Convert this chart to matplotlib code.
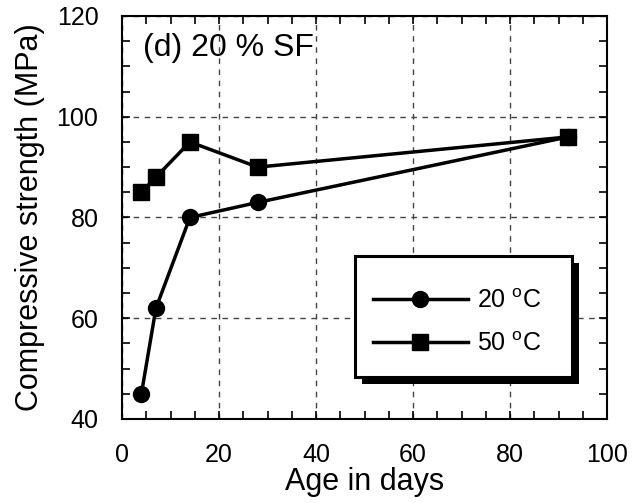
import matplotlib
matplotlib.use('Agg')
from matplotlib import pyplot as plt
from matplotlib.ticker import MultipleLocator
from matplotlib.patches import Rectangle

plt.rcParams['font.family'] = ['Liberation Sans', 'DejaVu Sans']

# Data
age_days = [4, 7, 14, 28, 92]
strength_20c = [45, 62, 80, 83, 96]
strength_50c = [85, 88, 95, 90, 96]

fig = plt.figure(figsize=(6.38, 5.03), dpi=100)
ax = fig.add_axes([122 / 638, 1 - 419 / 503, (607 - 122) / 638, (419 - 16) / 503])

ax.plot(age_days, strength_20c, color='black', lw=2.5, marker='o', ms=11.5, label='20 $^{\\mathregular{o}}$C')
ax.plot(age_days, strength_50c, color='black', lw=2.5, marker='s', ms=12, label='50 $^{\\mathregular{o}}$C')

ax.set_xlim(0, 100)
ax.set_ylim(40, 120)
ax.xaxis.set_major_locator(MultipleLocator(20))
ax.xaxis.set_minor_locator(MultipleLocator(5))
ax.yaxis.set_major_locator(MultipleLocator(20))
ax.yaxis.set_minor_locator(MultipleLocator(5))
ax.tick_params(which='both', direction='in', top=True, right=True, labelsize=18,
               width=1.2, length=6, pad=17)
for s in ax.spines.values():
    s.set_linewidth(1.5)

ax.grid(True, which='major', color='#444444', ls=(0, (4, 4)), lw=1.0)

ax.set_xlabel('Age in days', fontsize=22, labelpad=0)
ax.set_ylabel('Compressive strength (MPa)', fontsize=22, labelpad=8)

ax.text(0.043, 0.957, '(d) 20 % SF', transform=ax.transAxes, fontsize=23, va='top', ha='left')

# legend box with drop shadow
bx0, bx1 = 0.480, 0.928
by0, by1 = 0.104, 0.404
ax.add_patch(Rectangle((bx0 + 7 / 485, by0 - 7 / 403), bx1 - bx0, by1 - by0, transform=ax.transAxes,
                       facecolor='black', edgecolor='black', lw=0, zorder=4))
ax.add_patch(Rectangle((bx0, by0), bx1 - bx0, by1 - by0, transform=ax.transAxes,
                       facecolor='white', edgecolor='black', lw=2.2, zorder=4.5))

leg = ax.legend(loc='center left', bbox_to_anchor=(0.5175, 0.2395), fontsize=18, frameon=False,
                handlelength=3.8, handletextpad=0.35, borderpad=0, labelspacing=0.75,
                borderaxespad=0)
leg.set_zorder(5)

fig.savefig('out.png', dpi=100)
